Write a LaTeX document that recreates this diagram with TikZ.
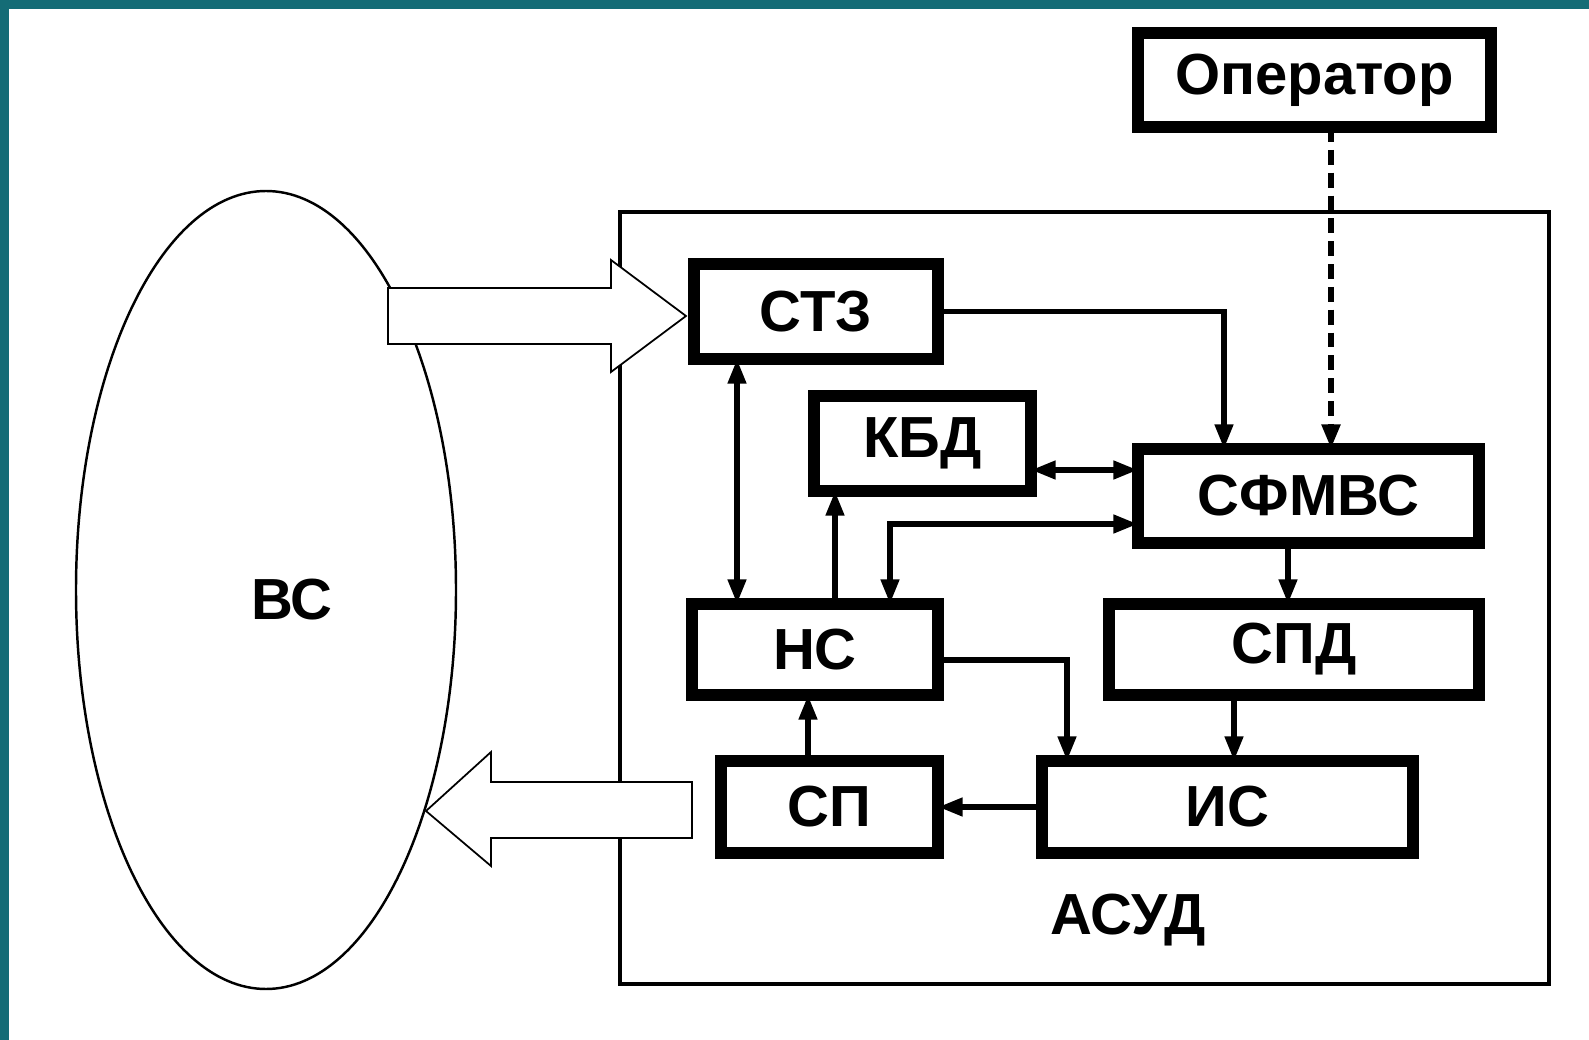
\documentclass[tikz,border=0pt]{standalone}
\usepackage{fontspec}
\setmainfont{Liberation Sans}
\usetikzlibrary{arrows.meta,shapes.geometric}
\newcommand{\pxu}{0.02cm}
\definecolor{tealbar}{RGB}{20,108,118}

\begin{document}
\begin{tikzpicture}[x=0.02cm, y=-0.02cm,
    block/.style={draw, line width=6.5pt, inner sep=0pt, outer sep=0pt, font=\fontsize{33}{38}\selectfont\bfseries},
    lbl/.style={font=\fontsize{33}{38}\selectfont\bfseries, inner sep=0pt},
    conn/.style={line width=3.2pt, -{Triangle[length=14pt, width=10pt]}},
    dconn/.style={line width=3.2pt, {Triangle[length=14pt, width=10pt]}-{Triangle[length=14pt, width=10pt]}},
    bigarrow/.style={draw, fill=white, line width=1pt, line join=miter}]
    \useasboundingbox (0,0) rectangle (1589,1040);

    % Draw frame strips
    \fill[tealbar] (0,0) rectangle (1589,9);
    \fill[tealbar] (0,0) rectangle (9,1040);

    % Draw controlled system and control system
    \node[draw, ellipse, line width=1.4pt, minimum width=380*\pxu, minimum height=798*\pxu, inner sep=0pt] (vs) at (266,590) {};
    \node[lbl] (vslabel) at (292,600) {ВС};
    \node[draw, line width=2.3pt, inner sep=0pt, minimum width=929*\pxu, minimum height=772*\pxu] (asud) at (1084.5,598) {};
    \node[lbl] (asudlabel) at (1128,920) {АСУД};

    % Draw wide arrows
    \coordinate (stzin) at (686,316);
    \draw[bigarrow] (stzin) -- ++(-75,-56) -- ++(0,28) -- ++(-223,0) -- ++(0,56)
        -- ++(223,0) -- ++(0,28) -- cycle;
    \coordinate (vsin) at (426,811);
    \draw[bigarrow] (vsin) -- ++(65,-59) -- ++(0,30) -- ++(201,0) -- ++(0,56)
        -- ++(-201,0) -- ++(0,28) -- cycle;

    % Draw blocks
    \node[block, minimum width=353*\pxu, minimum height=94*\pxu] (oper) at (1314.5,80) {Оператор};
    \node[block, minimum width=244*\pxu, minimum height=95*\pxu] (stz) at (816,311.5) {СТЗ};
    \node[block, minimum width=217*\pxu, minimum height=95*\pxu] (kbd) at (922.5,443.5) {КБД};
    \node[block, minimum width=341*\pxu, minimum height=94*\pxu] (sfmvs) at (1308.5,496) {СФМВС};
    \node[block, minimum width=246*\pxu, minimum height=91*\pxu] (ns) at (815,649.5) {НС};
    \node[block, minimum width=370*\pxu, minimum height=91*\pxu] (spd) at (1294,649.5) {СПД};
    \node[block, minimum width=217*\pxu, minimum height=92*\pxu] (sp) at (829.5,807) {СП};
    \node[block, minimum width=371*\pxu, minimum height=92*\pxu] (is) at (1227.5,807) {ИС};

    % Draw connections
    \draw[line width=3.5pt, dash pattern=on 8.5pt off 4.5pt, -{Triangle[length=14pt, width=10pt]}]
        (1331,0 |- oper.south) -- (1331,0 |- sfmvs.north);
    \draw[conn] (stz.east) -| (1224,0 |- sfmvs.north);
    \draw[dconn] (737,0 |- stz.south) -- (737,0 |- ns.north);
    \draw[dconn] (kbd.east |- 0,470) -- (sfmvs.west |- 0,470);
    \draw[conn] (835,0 |- ns.north) -- (835,0 |- kbd.south);
    \draw[dconn] (sfmvs.west |- 0,524) -| (890,0 |- ns.north);
    \draw[conn] (1288,0 |- sfmvs.south) -- (1288,0 |- spd.north);
    \draw[conn] (ns.east |- 0,660) -| (1067,0 |- is.north);
    \draw[conn] (1234,0 |- spd.south) -- (1234,0 |- is.north);
    \draw[conn] (is.west) -- (sp.east);
    \draw[conn] (808,0 |- sp.north) -- (808,0 |- ns.south);
\end{tikzpicture}
\end{document}
